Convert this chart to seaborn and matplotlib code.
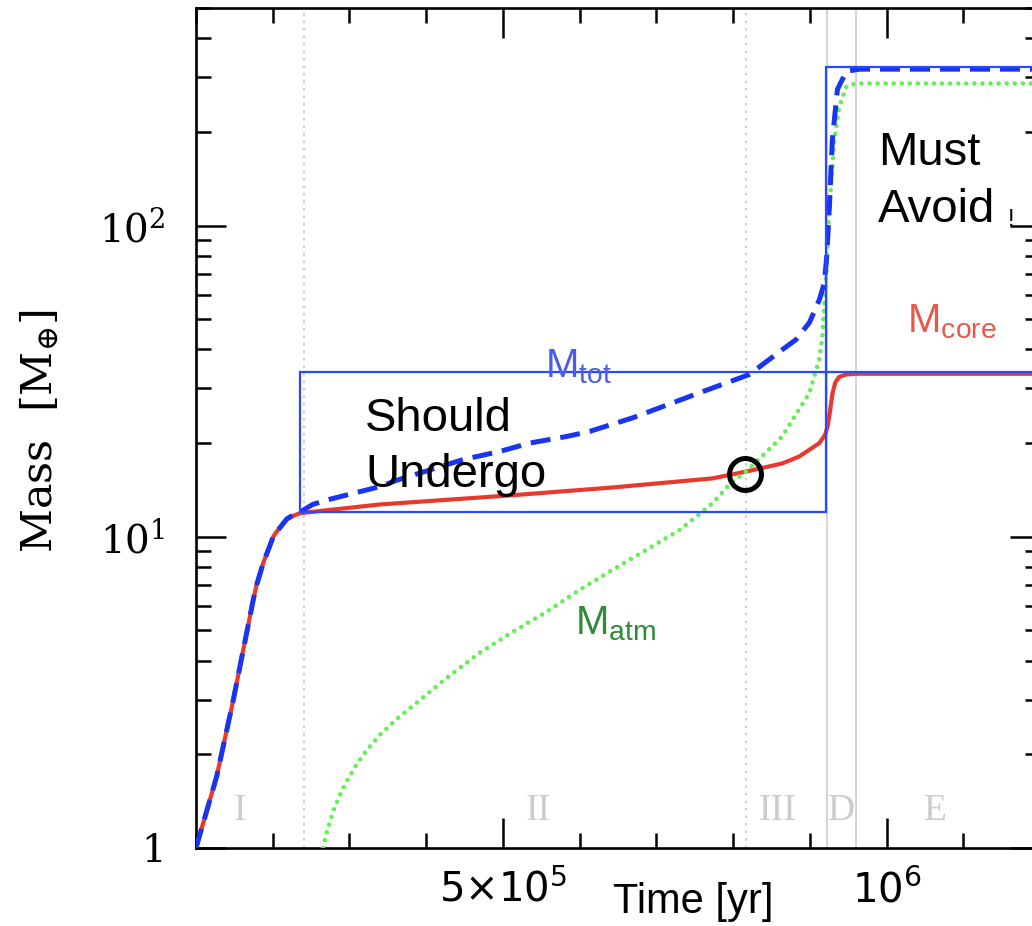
import matplotlib
matplotlib.use("Agg")
import matplotlib.pyplot as plt
import seaborn as sns
import numpy as np
import pandas as pd
from matplotlib.patches import Rectangle
from matplotlib.ticker import FixedLocator, FixedFormatter, MultipleLocator, LogLocator, NullFormatter

# ---------------- data ----------------
core_time = [100e3, 127e3, 148.6e3, 162e3, 174.6e3, 179e3, 187.6e3, 200.7e3, 205e3, 209.4e3,
             218.1e3, 226.7e3, 235.4e3, 274.5e3, 340e3, 513e3, 643e3, 773e3, 817e3, 864e3,
             886e3, 912.5e3, 920e3, 923.5e3, 926.5e3, 929.5e3, 933e3, 938e3, 947e3, 960e3,
             1250e3]
core_mass = [1.0, 1.70, 2.99, 4.38, 6.27, 7.0, 8.23, 10.0, 10.38, 10.67,
             11.35, 11.68, 11.9, 12.2, 12.7, 13.6, 14.4, 15.4, 16.2, 17.2,
             18.1, 20.0, 21.3, 22.8, 25.5, 28.8, 31.2, 32.6, 33.2, 33.4,
             33.4]

tot_time = [100e3, 127e3, 148.6e3, 162e3, 174.6e3, 179e3, 187.6e3, 200.7e3, 205e3, 209.4e3,
            218.1e3, 226.7e3, 235.4e3, 252e3, 274.5e3, 340e3, 362e3, 448e3, 496e3, 535e3,
            583e3, 613e3, 669e3, 756e3, 821e3, 864e3, 882e3, 899.5e3, 912.5e3, 919e3,
            922e3, 925.5e3, 929.4e3, 936e3, 947.7e3, 964.6e3, 1250e3]
tot_mass = [1.0, 1.70, 2.99, 4.38, 6.27, 7.0, 8.23, 10.0, 10.38, 10.7,
            11.4, 11.75, 12.0, 12.7, 13.2, 14.5, 15.2, 17.7, 18.8, 20.0,
            21.0, 21.8, 24.1, 29.0, 33.2, 39.9, 43.0, 48.8, 57.8, 65.6,
            79.5, 115, 189, 274, 313, 318, 318]

atm_time = [265.4e3, 270.6e3, 278.4e3, 287.5e3, 296.6e3, 309.6e3, 322.7e3, 339.6e3, 361.7e3,
            382.6e3, 404.7e3, 426.8e3, 469.8e3, 512.8e3, 557e3, 600e3, 643e3, 687e3, 730e3,
            773e3, 795e3, 817e3, 864e3, 899.5e3, 912e3, 916e3, 921.6e3, 925.5e3, 932e3,
            938.5e3, 947.6e3, 960e3, 1250e3]
atm_mass = [1.0, 1.126, 1.305, 1.48, 1.642, 1.862, 2.066, 2.309, 2.598,
            2.862, 3.174, 3.521, 4.24, 4.95, 5.74, 6.75, 7.83, 9.08, 10.5,
            12.8, 14.7, 16.2, 21.0, 29.0, 37.0, 43.0, 70.6, 115, 189,
            241, 280, 286, 286]

circle_time = [815.5e3]
circle_mass = [15.94]

dotted_bounds = [240.2e3, 816.2e3]
solid_bounds = [922.4e3, 960.8e3]
region_names = ["I", "II", "III", "D", "E"]
region_time = [157.3e3, 545.7e3, 858.5e3, 940.6e3, 1063.4e3]

xtick_vals = [5e5, 1e6]
xtick_labels = [r"$\mathregular{5{\times}10^{5}}$", r"$\mathregular{10^{6}}$"]
ytick_vals = [1, 10, 100]
ytick_labels = ["1", r"$10^{1}$", r"$10^{2}$"]

# ---------------- style ----------------
sns.set_style("ticks")
plt.rcParams["font.family"] = ["DejaVu Serif"]
plt.rcParams["mathtext.fontset"] = "dejavuserif"
plt.rcParams["text.color"] = "black"

W, H = 1032, 926
fig = plt.figure(figsize=(W / 100, H / 100), dpi=100)
ax = fig.add_axes([196 / W, 78 / H, 844 / W, 840 / H])
ax.set_yscale("log")
ax.set_xlim(1e5, 1.2e6)
ax.set_ylim(1, 500)

# phase boundaries
for b in dotted_bounds:
    ax.axvline(b, color="#c4c4c4", lw=1.2, ls=(0, (1.5, 3)), zorder=1)
for b in solid_bounds:
    ax.axvline(b, color="#d4d4d4", lw=1.4, zorder=1)

sns.lineplot(x=core_time, y=core_mass, ax=ax, color="#e8392e", lw=3.0,
             sort=False, estimator=None, zorder=3)
sns.lineplot(x=atm_time, y=atm_mass, ax=ax, color="#66ee55", lw=3.3,
             linestyle=(0, (0.01, 1.75)), dash_capstyle="round",
             sort=False, estimator=None, zorder=3)
sns.lineplot(x=tot_time, y=tot_mass, ax=ax, color="#1a35f0", lw=3.6,
             linestyle=(0, (4, 2)), sort=False, estimator=None, zorder=4)

# boxes
box_col = "#2a48ff"
ax.add_patch(Rectangle((235.5e3, 12.03), 921.1e3 - 235.5e3, 33.9 - 12.03,
                       fill=False, ec=box_col, lw=1.6, zorder=5))
ax.add_patch(Rectangle((921.1e3, 33.9), 1.4e6 - 921.1e3, 322 - 33.9,
                       fill=False, ec=box_col, lw=1.6, zorder=5))

# circle marker
ax.plot(circle_time, circle_mass, marker="o", ms=23, mfc="none", mec="black",
        mew=3.6, ls="none", zorder=6)

# annotations
sans = "Liberation Sans"
ax.text(320.3e3, 21.9, "Should", fontsize=34, family=sans, color="black",
        va="baseline", ha="left", zorder=7)
ax.text(320.3e3, 14.4, "Undergo", fontsize=34, family=sans, color="black",
        va="baseline", ha="left", zorder=7)
ax.text(988.9e3, 156, "Must", fontsize=34, family=sans, color="black",
        va="baseline", ha="left", zorder=7)
ax.text(988.9e3, 103, "Avoid", fontsize=34, family=sans, color="black",
        va="baseline", ha="left", zorder=7)
ax.text(1158e3, 99.3, "!", fontsize=17, family=sans, color="black",
        va="baseline", ha="left", zorder=7)

ax.text(554.9e3, 32.5, r"$\mathregular{M_{tot}}$", fontsize=29, family=sans,
        color="#4a5cf0", va="baseline", ha="left", zorder=7)
ax.text(1026.7e3, 45.3, r"$\mathregular{M_{core}}$", fontsize=29, family=sans,
        color="#e8584a", va="baseline", ha="left", zorder=7)
ax.text(594.0e3, 4.84, r"$\mathregular{M_{atm}}$", fontsize=29, family=sans,
        color="#2f8a3a", va="baseline", ha="left", zorder=7)

for name, t in zip(region_names, region_time):
    ax.text(t, 1.23, name, fontsize=27, family="Liberation Serif", color="#cccccc",
            va="baseline", ha="center", zorder=2)

# ticks
ax.xaxis.set_major_locator(FixedLocator(xtick_vals))
ax.xaxis.set_major_formatter(FixedFormatter(xtick_labels))
ax.xaxis.set_minor_locator(MultipleLocator(1e5))
ax.yaxis.set_major_locator(FixedLocator(ytick_vals))
ax.yaxis.set_major_formatter(FixedFormatter(ytick_labels))
ax.yaxis.set_minor_locator(LogLocator(base=10, subs=np.arange(2, 10)))
ax.yaxis.set_minor_formatter(NullFormatter())

ax.tick_params(which="both", direction="in", top=True, right=True,
               width=1.8, color="black", labelcolor="black", labelsize=28)
ax.tick_params(which="major", length=21.6)
ax.tick_params(which="minor", length=10.8)
ax.tick_params(axis="x", which="major", pad=16, labelsize=29)
ax.tick_params(axis="y", which="major", pad=22)
for lab in ax.get_xticklabels():
    lab.set_fontfamily("DejaVu Sans")
for sp in ax.spines.values():
    sp.set_linewidth(1.9)
    sp.set_color("black")

ax.set_xlabel("")
ax.set_ylabel(r"Mass  [M$_{\oplus}$]", fontsize=31, family="DejaVu Serif", color="black")
ax.yaxis.set_label_coords(-0.159, 0.496)

fig.text(693 / W, (926 - 913) / H, "Time [yr]", fontsize=30, family=sans,
         color="black", ha="center", va="baseline")

fig.savefig("out.png", dpi=100)
